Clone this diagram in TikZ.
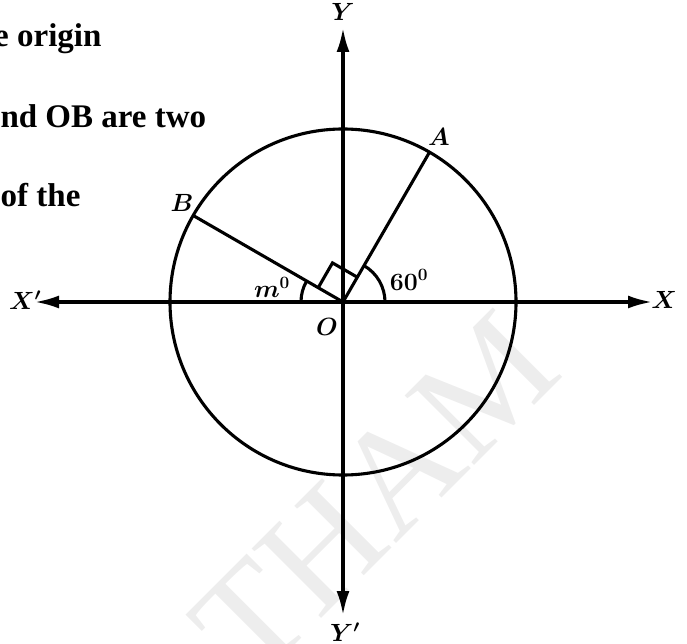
\documentclass[tikz,border=0pt]{standalone}
\usepackage{amsmath,bm}
\usepackage{fontspec}
\newfontfamily\timesfont{Liberation Serif}
\usetikzlibrary{arrows.meta}
\begin{document}
\begin{tikzpicture}[x=1pt,y=1pt, line width=3.1pt,
  axisarrow/.style={{Latex[length=24pt,width=13pt]}-{Latex[length=24pt,width=13pt]}},
  lbl/.style={font=\fontsize{24}{28}\selectfont, inner sep=0pt},
  toptext/.style={font=\fontsize{33}{38}\selectfont\timesfont\bfseries, anchor=base east, inner sep=0pt},
  watermark/.style={rotate=45, text=black!7, font=\fontsize{150}{150}\selectfont\timesfont, inner sep=0pt}]
\useasboundingbox (0,0) rectangle (687,643);
% watermark
\node[watermark] (wm) at (375,148) {THAM};
% top-left text
\node[toptext] (t1) at (103,596) {the origin};
\node[toptext, anchor=base west] (t2) at (-1,515) {nd OB are two};
\node[toptext] (t3) at (82,436) {of the};
% coordinates
\coordinate (O) at (343,341);
\coordinate (XL) at (35,341);
\coordinate (XR) at (652,341);
\coordinate (YT) at (343,615);
\coordinate (YB) at (343,28);
\coordinate (A) at (429.5,490.8);
\coordinate (B) at (193.2,427.5);
\coordinate (RA1) at (357.3,365.8);
\coordinate (RA2) at (318.2,355.3);
\coordinate (RAC) at (332.5,380.1);
% circle and axes
\draw (O) circle[radius=173];
\draw[axisarrow] (XL) -- (XR);
\draw[axisarrow] (YB) -- (YT);
% radii
\draw (O) -- (A);
\draw (O) -- (B);
% right angle
\draw (RA1) -- (RAC) -- (RA2);
% angle arcs
\draw (O) ++(42,0) arc[start angle=0, end angle=60, radius=42];
\draw (O) ++(150:42) arc[start angle=150, end angle=180, radius=42];
% labels
\node[lbl] (lY) at (343,631) {$\bm{Y}$};
\node[lbl] (lYp) at (345,11) {$\bm{Y'}$};
\node[lbl] (lXp) at (25,343) {$\bm{X'}$};
\node[lbl] (lX) at (664,343) {$\bm{X}$};
\node[lbl] (lA) at (439,506) {$\bm{A}$};
\node[lbl] (lB) at (182,440) {$\bm{B}$};
\node[lbl] (lO) at (327,316) {$\bm{O}$};
\node[lbl] (lm) at (272,356) {$\bm{m^0}$};
\node[lbl] (l60) at (409,363) {$\bm{60^0}$};
\end{tikzpicture}
\end{document}
